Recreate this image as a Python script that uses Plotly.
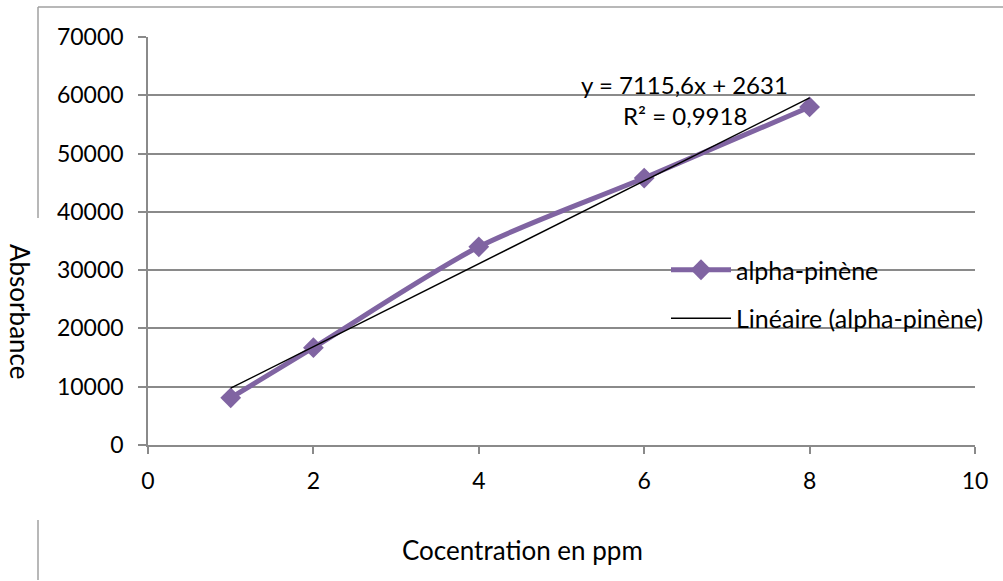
import plotly.graph_objects as go

concentration = [1, 2, 4, 6, 8]
absorbance = [8100, 16700, 34000, 45800, 58000]
series_name = "alpha-pinène"
trend_name = "Linéaire (alpha-pinène)"
slope = 7115.6
intercept = 2631
r2_text = "R² = 0,9918"
eq_text = "y = 7115,6x + 2631"
y_ticks = [0, 10000, 20000, 30000, 40000, 50000, 60000, 70000]
y_labels = ["0", "10000", "20000", "30000", "40000", "50000", "60000", "70000"]
x_ticks = [0, 2, 4, 6, 8, 10]

FONT = "Lato"
GRID = "#8a8a8a"
PURPLE = "#8064A2"
FS = 23

trend_x = [min(concentration), max(concentration)]
trend_y = [slope * x + intercept for x in trend_x]

fig = go.Figure()
fig.add_trace(go.Scatter(
    x=concentration, y=absorbance, name=series_name, mode="lines+markers",
    line=dict(color=PURPLE, width=5, shape="spline", smoothing=0.8),
    marker=dict(symbol="diamond", size=16, color=PURPLE),
    legendgroup="a",
))
fig.add_trace(go.Scatter(
    x=trend_x, y=trend_y, name=trend_name, mode="lines",
    line=dict(color="black", width=1.5),
    legendgroup="b",
))

def px_x(px):
    return (px - 148) / 827
def px_y(py):
    return (445 - py) / 408

def note(x, y, text, size, angle=0):
    fig.add_annotation(x=px_x(x), y=px_y(y), xref="paper", yref="paper",
                       xanchor="center", yanchor="middle",
                       text=text, showarrow=False, textangle=angle,
                       font=dict(family=FONT, size=size, color="black"))

note(684, 84, eq_text, 24)
note(685, 115, r2_text, 24)
note(522, 550, "Cocentration en ppm", 26)
note(20, 311, "Absorbance", 26, 90)

# outer chart frame fragments
frame = dict(type="line", xref="paper", yref="paper", line=dict(color="#a0a0a0", width=1.5))
fig.add_shape(**frame, x0=px_x(38), x1=px_x(1010), y0=px_y(7), y1=px_y(7))
fig.add_shape(**frame, x0=px_x(38), x1=px_x(38), y0=px_y(7), y1=px_y(218))
fig.add_shape(**frame, x0=px_x(38), x1=px_x(38), y0=px_y(520), y1=px_y(580))

fig.update_layout(
    width=1003, height=581,
    margin=dict(l=148, r=28, t=37, b=136),
    paper_bgcolor="white", plot_bgcolor="white",
    font=dict(family=FONT, size=FS, color="black"),
    showlegend=True,
    legend=dict(x=px_x(666), y=px_y(247), xanchor="left", yanchor="top",
                bgcolor="rgba(0,0,0,0)", font=dict(family=FONT, size=25),
                traceorder="grouped", tracegroupgap=13, itemwidth=60),
    xaxis=dict(range=[0, 10], tickvals=x_ticks, showgrid=False, zeroline=False,
               automargin=False,
               showline=True, linecolor=GRID, linewidth=1.5,
               ticks="outside", ticklen=7, tickcolor=GRID, tickwidth=1.5,
               ticklabelstandoff=8,
               tickfont=dict(family=FONT, size=FS)),
    yaxis=dict(range=[0, 70000], tickvals=y_ticks, ticktext=y_labels,
               automargin=False,
               showgrid=True, gridcolor=GRID,
               gridwidth=1.5, zeroline=False, showline=True, linecolor=GRID,
               linewidth=1.5, ticks="outside", ticklen=8, tickcolor=GRID, tickwidth=1.5,
               ticklabelstandoff=10,
               tickfont=dict(family=FONT, size=FS)),
)

fig.write_html("out.html", config={"displayModeBar": False},
               post_script="document.body.style.margin='0';document.body.style.overflow='hidden';")
